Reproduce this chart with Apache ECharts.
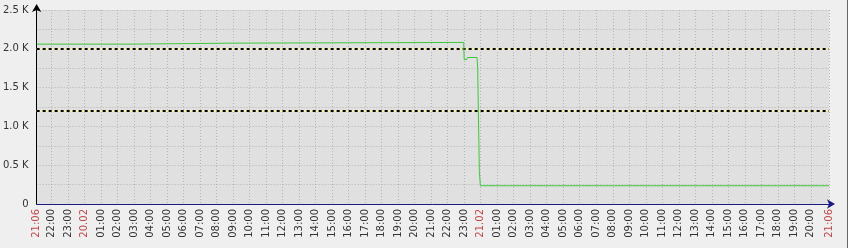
<!DOCTYPE html>
<html><head><meta charset="utf-8">
<script src="https://cdn.jsdelivr.net/npm/echarts@6/dist/echarts.min.js"></script>
<style>
html,body{margin:0;padding:0;background:#ffffff;}
#c{width:847px;height:248px;background:#efefef;border-right:1px solid #666;}
</style>
</head><body><div id="c"></div>
<script>
// Time in hours counted from 19.02 00:00
const xStart = 21.1;   // 21:06 on 19.02
const xEnd = 69.1;     // 21:06 on 21.02
const xTickLabels = ['21:06','22:00','23:00','20.02','01:00','02:00','03:00','04:00','05:00','06:00','07:00','08:00','09:00','10:00','11:00','12:00','13:00','14:00','15:00','16:00','17:00','18:00','19:00','20:00','21:00','22:00','23:00','21.02','01:00','02:00','03:00','04:00','05:00','06:00','07:00','08:00','09:00','10:00','11:00','12:00','13:00','14:00','15:00','16:00','17:00','18:00','19:00','20:00','21:06'];
const redLabels = ['21:06','20.02','21.02'];

const lineTimes  = [21.1, 26.88, 26.9, 32.94, 32.96, 46.97, 47.0, 47.15, 47.2, 47.78, 47.82, 47.86, 47.92, 47.98, 69.1];
const lineValues = [2060, 2060, 2073, 2073, 2082, 2082, 1862, 1862, 1888, 1888, 1740, 1160, 420, 235, 235];

const thresholds = [2000, 1200];

const yTickValues = [0, 500, 1000, 1500, 2000, 2500];
const yTickLabels = ['0', '0.5 K', '1.0 K', '1.5 K', '2.0 K', '2.5 K'];

// tick positions: start, each full hour, end
const xTickPos = xTickLabels.map((l, i) => i === 0 ? xStart : (i === xTickLabels.length - 1 ? xEnd : 21 + i));

const chart = echarts.init(document.getElementById('c'), null, {renderer: 'canvas'});
const FONT = 'DejaVu Sans';
const gridDot = {color: '#b4b4b4', type: [1, 2], width: 1};

const series = [];
thresholds.forEach((t) => {
  series.push({
    type: 'line', data: [], silent: true, z: 3,
    markLine: {silent: true, symbol: ['none', 'none'], label: {show: false},
      lineStyle: {color: '#f2f2b0', type: 'solid', width: 2}, data: [{yAxis: t}]}
  });
  series.push({
    type: 'line', data: [], silent: true, z: 4,
    markLine: {silent: true, symbol: ['none', 'none'], label: {show: false},
      lineStyle: {color: '#000000', type: [3, 3], width: 2}, data: [{yAxis: t}]}
  });
});
series.push({
  type: 'line', z: 5,
  data: lineTimes.map((t, i) => [t, lineValues[i]]),
  showSymbol: false, symbol: 'none', animation: false,
  lineStyle: {color: '#3cc83c', width: 1}
});

chart.setOption({
  animation: false,
  backgroundColor: 'transparent',
  grid: {left: 36, top: 10, width: 793, height: 194, show: true, backgroundColor: '#e0e0e0', borderWidth: 0},
  xAxis: {
    type: 'value', min: xStart, max: xEnd,
    axisLine: {show: true, lineStyle: {color: '#1c1c80', width: 1}, symbol: ['none', 'arrow'], symbolSize: [7, 8], symbolOffset: [0, 6]},
    axisTick: {show: false, customValues: xTickPos},
    splitLine: {show: true, lineStyle: gridDot},
    axisLabel: {
      customValues: xTickPos, rotate: 90, margin: 5, fontFamily: FONT, fontSize: 10, color: '#333',
      formatter: (v) => {
        let idx = 0, best = 1e9;
        xTickPos.forEach((p, i) => { if (Math.abs(p - v) < best) { best = Math.abs(p - v); idx = i; } });
        const l = xTickLabels[idx];
        return redLabels.includes(l) ? '{r|' + l + '}' : l;
      },
      rich: {r: {color: '#c04848', fontFamily: FONT, fontSize: 10}}
    }
  },
  yAxis: {
    type: 'value', min: 0, max: 2500, interval: 250,
    axisLine: {show: true, lineStyle: {color: '#000000', width: 1}, symbol: ['none', 'arrow'], symbolSize: [7, 8], symbolOffset: [0, 6]},
    axisTick: {show: false},
    splitLine: {show: true, lineStyle: gridDot},
    axisLabel: {
      margin: 8, fontFamily: FONT, fontSize: 10, color: '#333',
      formatter: (v) => { const i = yTickValues.indexOf(v); return i >= 0 ? yTickLabels[i] : ''; }
    }
  },
  series: series
});
</script></body></html>
